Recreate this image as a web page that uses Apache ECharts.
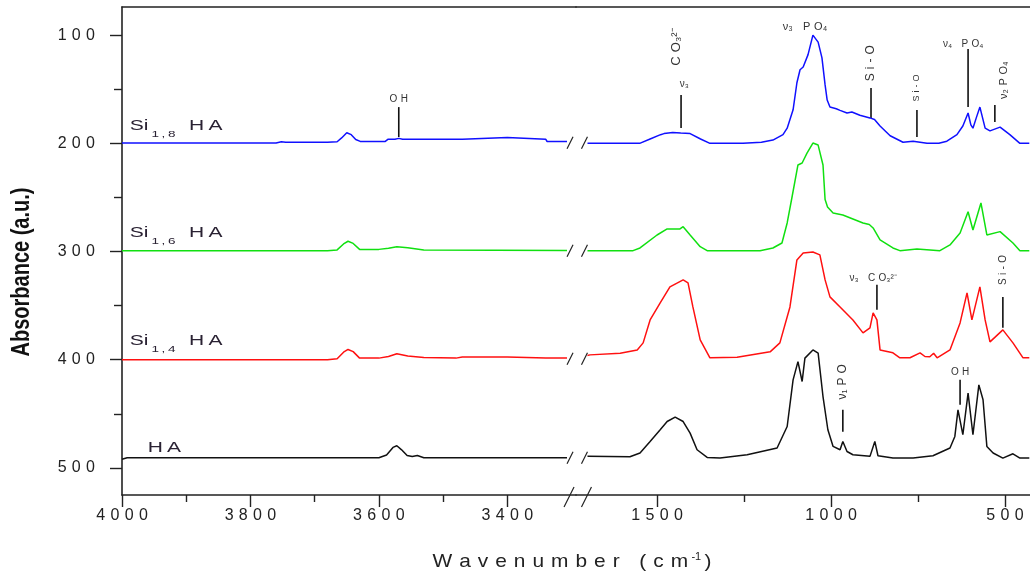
<!DOCTYPE html>
<html><head><meta charset="utf-8">
<script src="https://cdn.jsdelivr.net/npm/echarts@6/dist/echarts.min.js"></script>
<style>html,body{margin:0;padding:0;background:#fff}#c{width:1030px;height:577px}</style>
</head><body><div id="c"></div>
<script>
// ---------- data: [wavenumber (cm-1), absorbance (a.u., offset, axis inverted)] ----------
const si18Left = [[4000,199.6],[3760,199.6],[3752,198.6],[3745,199.1],[3680,199.1],[3665,198.5],[3658,195],[3650,190.2],[3643,192],[3636,196.5],[3629,198.2],[3590,198.2],[3586,196.3],[3575,196.3],[3569,195.4],[3563,196.3],[3470,196.3],[3468,194.5],[3400,194.5],[3398,196.3],[3340,196.3],[3338,198.3],[3307,198.3]];
const si18Right = [[1700,200],[1550,200],[1520,196],[1490,192],[1480,191],[1455,190],[1432,190.5],[1405,191],[1375,196],[1348,200],[1253,200],[1200,199],[1167,197],[1138,192],[1126,186],[1109,169],[1098,144],[1089,132],[1080,129.5],[1066,118],[1052,100],[1037,106.5],[1026,121],[1017,146],[1011,160],[1003,166.5],[985,168],[974,169.5],[954,172],[940,171],[917,174],[888,176.5],[875,178],[859,184],[830,193],[793,199],[764,198],[724,200],[690,200],[667,198],[638,192],[621,184],[606,172],[598,183],[592,186],[582,176],[572,166.5],[557,186],[543,188.5],[514,185],[486,192],[457,200],[430,200]];
const si16Left = [[4000,299.2],[3680,299.2],[3665,298.5],[3655,293],[3648,290.5],[3640,292.5],[3630,298],[3600,298],[3585,297],[3572,295.5],[3555,296.5],[3530,298.5],[3307,299]];
const si16Right = [[1700,299.2],[1569,299.2],[1549,296.7],[1500,284.7],[1471,279.1],[1434,279.1],[1425,277],[1405,284.7],[1376,295.5],[1356,299.2],[1204,299.2],[1167,296.7],[1141,292.1],[1126,273.6],[1112,249.6],[1095,220],[1083,218.2],[1069,209],[1052,199.7],[1037,201.6],[1023,220],[1017,252],[1010,258.8],[994,264.4],[966,266.2],[937,269.9],[908,273.6],[890,275],[879,278.2],[859,289.3],[822,296.7],[802,299.2],[753,297.6],[687,299.2],[658,293.9],[629,282.8],[606,263.2],[592,280.1],[569,255.1],[552,284.7],[514,281.6],[477,292.1],[457,299.2],[430,299.2]];
const si14Left = [[4000,400],[3680,400],[3665,399],[3655,393],[3648,390.5],[3640,392.5],[3630,398.5],[3600,398.5],[3585,397],[3572,394.5],[3555,396.5],[3530,398],[3480,398.5],[3470,397.5],[3400,397.5],[3340,398.5],[3307,398.5]];
const si14Right = [[1700,396],[1693,395.5],[1606,393.9],[1557,390.9],[1540,384.4],[1520,363.2],[1491,347.5],[1463,332.7],[1425,326.2],[1411,329],[1397,351.2],[1376,381.6],[1348,398.2],[1270,397.8],[1175,392.7],[1147,384.4],[1118,351.2],[1098,307.8],[1080,301.3],[1052,300.4],[1032,303.1],[1017,326.2],[1003,341.9],[974,351.2],[937,363.2],[908,375.2],[888,370.5],[879,356.7],[868,363.2],[859,390.9],[822,393.6],[802,398.2],[773,398.2],[744,393.6],[730,397],[716,397.3],[705,394],[695,398.2],[658,390.9],[629,366],[609,338.2],[595,363.2],[572,332.7],[557,363.2],[543,383.5],[506,372.4],[477,384.4],[448,398.2],[430,398.2]];
const haLeft = [[4000,492],[3992,490.6],[3910,490.6],[3907,491.6],[3904,490.6],[3860,490.6],[3857,491.6],[3854,490.6],[3600,490.6],[3588,488],[3578,481],[3572,479.5],[3565,483],[3556,488.5],[3548,489.5],[3540,488.5],[3530,490.6],[3307,490.6]];
const haRight = [[1700,489.3],[1578,489.7],[1549,486.2],[1520,475.5],[1491,464.7],[1471,457.1],[1448,453],[1425,457.1],[1405,467.8],[1385,483.2],[1356,490.3],[1319,490.9],[1241,487.8],[1155,481.6],[1126,461.7],[1109,418.6],[1095,401.7],[1083,420.1],[1075,398.5],[1052,390.9],[1037,393.9],[1023,434],[1009,464.7],[994,480.1],[974,483.2],[966,475.5],[954,484.8],[937,487.8],[888,489.3],[874,475.5],[865,488.7],[822,490.9],[764,490.9],[707,488.7],[658,481.6],[644,470.9],[635,446.3],[621,469.3],[606,430.8],[592,469.3],[575,423.2],[563,437],[552,480.1],[534,486.2],[506,490.9],[477,486.9],[457,490.9],[430,490.9]];

const xTicksLeft = [4000, 3800, 3600, 3400];
const xMinorLeft = [3900, 3700, 3500];
const xTicksRight = [1500, 1000, 500];
const xMinorRight = [1250, 750];
const yTicks = [100, 200, 300, 400, 500];
const yMinor = [150, 250, 350, 450];

// series labels: [main, subscript, suffix, wavenumber, absorbance]
const seriesLabels = [['Si','1,8','HA',3988,183.1],['Si','1,6','HA',3988,281.9],['Si','1,4','HA',3988,381.6],['','','HA',3960,480.4]];
// annotation lines: [segment(0 left / 1 right), wavenumber, top, bottom]
const annoLines = [[0,3569,166.5,194.2],[1,1431,155.4,185.9],[1,885,148.9,176.6],[1,753,169.3,194.2],[1,606,112.9,166.5],[1,529,164.6,180.3],[1,868,330.8,353.9],[1,506,341.9,370.5],[1,966,446.3,466.6],[1,629,418.6,441.6]];
// annotation texts: [segment, text, wavenumber, absorbance, rotated, fontSize]
const annoTexts = [[0,'OH',3569,159.1,false,10],[1,'ν₃',1422,145.2,false,10],[1,'CO₃²⁻',1443,111.1,true,13],[1,'ν₃ PO₄',1075,92.6,false,11],[1,'Si-O',885,125.9,true,12],[1,'Si-O',753,148.9,true,9],[1,'ν₄ PO₄',620,108.3,false,10],[1,'ν₂PO₄',502,141.6,true,11],[1,'ν₃ CO₃²⁻',879,324.4,false,10],[1,'Si-O',506,317,true,10],[1,'ν₁PO',966,420.4,true,12],[1,'OH',629,411.2,false,10]];
const breakBaselines = [199.5, 299.2, 399, 490.5];

const SP = '\u2004';
const spaced = s => String(s).split('').join(SP);
const FONT = 'Liberation Sans, Arial, sans-serif';
const INK = '#222';

const chart = echarts.init(document.getElementById('c'), null, {renderer: 'canvas'});

function xAxisDef(grid, min, max, ticks, minor, kind) {
  const base = {gridIndex: grid, type: 'value', inverse: true, min: min, max: max, splitLine: {show: false}};
  if (kind === 'main') return Object.assign(base, {
    position: 'bottom',
    axisLine: {show: true, onZero: false, lineStyle: {color: INK, width: 1.6}},
    axisTick: {show: true, customValues: ticks, length: 12, lineStyle: {color: INK, width: 1.4}},
    axisLabel: {show: true, customValues: ticks, formatter: v => spaced(v), margin: 13, color: INK, fontSize: 16, fontFamily: FONT}
  });
  if (kind === 'minor') return Object.assign(base, {
    position: 'bottom',
    axisLine: {show: false, onZero: false},
    axisTick: {show: true, customValues: minor, length: 7, lineStyle: {color: INK, width: 1.4}},
    axisLabel: {show: false}
  });
  return Object.assign(base, {
    position: 'top',
    axisLine: {show: true, onZero: false, lineStyle: {color: INK, width: 1.6}},
    axisTick: {show: false}, axisLabel: {show: false}
  });
}

const Ymin = 74, Ymax = 525;
const option = {
  animation: false,
  backgroundColor: '#fff',
  grid: [
    {left: 122, top: 7, width: 454, height: 488},
    {left: 576, top: 7, width: 454, height: 488}
  ],
  xAxis: [
    xAxisDef(0, 3293, 4000, xTicksLeft, null, 'main'),
    xAxisDef(1, 428, 1733, xTicksRight, null, 'main'),
    xAxisDef(0, 3293, 4000, null, xMinorLeft, 'minor'),
    xAxisDef(1, 428, 1733, null, xMinorRight, 'minor'),
    xAxisDef(0, 3293, 4000, null, null, 'top'),
    xAxisDef(1, 428, 1733, null, null, 'top')
  ],
  yAxis: [
    {gridIndex: 0, type: 'value', inverse: true, min: Ymin, max: Ymax, position: 'left', splitLine: {show: false},
     axisLine: {show: true, onZero: false, lineStyle: {color: INK, width: 1.6}},
     axisTick: {show: true, customValues: yTicks, length: 12, lineStyle: {color: INK, width: 1.4}},
     axisLabel: {show: true, customValues: yTicks, formatter: v => spaced(v), margin: 27, color: INK, fontSize: 16, fontFamily: FONT}},
    {gridIndex: 1, type: 'value', inverse: true, min: Ymin, max: Ymax, show: false},
    {gridIndex: 0, type: 'value', inverse: true, min: Ymin, max: Ymax, position: 'left', splitLine: {show: false},
     axisLine: {show: false, onZero: false},
     axisTick: {show: true, customValues: yMinor, length: 8, lineStyle: {color: INK, width: 1.4}},
     axisLabel: {show: false}}
  ],
  series: []
};

const specs = [
  [si18Left, si18Right, '#1010ff'],
  [si16Left, si16Right, '#10e010'],
  [si14Left, si14Right, '#ff1010'],
  [haLeft, haRight, '#111111']
];
specs.forEach(([l, r, col]) => {
  [[l, 0], [r, 1]].forEach(([d, gi]) => {
    option.series.push({type: 'line', xAxisIndex: gi, yAxisIndex: gi, data: d, showSymbol: false, silent: true,
      lineStyle: {color: col, width: 1.5}, itemStyle: {color: col}, clip: true});
  });
});

chart.setOption(option);

const px = (seg, x, y) => chart.convertToPixel({xAxisIndex: seg, yAxisIndex: seg}, [x, y]);
const g = [];
// series names (horizontally stretched like the reference)
seriesLabels.forEach(([m, sub, suf, wn, v]) => {
  const p = px(0, wn, v);
  let t = '';
  if (m) t += '{m|' + m + '}{s|' + sub.split('').join('\u2009') + '}{m|\u2002' + 'H\u2009A' + '}';
  else t += '{m|H\u2009A}';
  g.push({type: 'text', x: p[0], y: p[1], scaleX: 1.5, silent: true, style: {text: t, align: 'left', verticalAlign: 'middle',
    rich: {m: {fontSize: 14, fontFamily: FONT, fill: '#2a2233', verticalAlign: 'bottom', lineHeight: 16},
           s: {fontSize: 9, fontFamily: FONT, fill: '#2a2233', verticalAlign: 'bottom', lineHeight: 9, padding: [0, 2, -6, 2]}}}});
});
// annotation lines
annoLines.forEach(([seg, wn, a, b]) => {
  const p1 = px(seg, wn, a), p2 = px(seg, wn, b);
  g.push({type: 'line', silent: true, shape: {x1: p1[0], y1: p1[1], x2: p2[0], y2: p2[1]}, style: {stroke: '#111', lineWidth: 1.6}});
});
// annotation texts
annoTexts.forEach(([seg, txt, wn, v, rot, fs]) => {
  const p = px(seg, wn, v);
  g.push({type: 'text', x: p[0], y: p[1], rotation: rot ? Math.PI / 2 : 0, silent: true,
    style: {text: spaced(txt).replace(/\u2004([₀-₉²³⁻])/g, '$1'), align: 'center', verticalAlign: 'middle', fontSize: fs, fontFamily: FONT, fill: '#333'}});
});
// break marks on curves
breakBaselines.forEach(v => {
  const a = px(0, 3307, v), b = px(1, 1700, v);
  [[a[0] + 3, a[1]], [b[0] - 3, b[1]]].forEach(([x, y]) => {
    g.push({type: 'line', silent: true, shape: {x1: x - 3, y1: y + 6, x2: x + 3, y2: y - 6}, style: {stroke: '#222', lineWidth: 1.2}});
  });
});
// break marks on x axis
const ax = px(0, 3307, Ymax), bx = px(1, 1700, Ymax);
[[ax[0] + 2, ax[1]], [bx[0] - 1, bx[1]]].forEach(([x, y]) => {
  g.push({type: 'line', silent: true, shape: {x1: x - 5, y1: y + 12, x2: x + 5, y2: y - 8}, style: {stroke: '#222', lineWidth: 1.2}});
});
// axis titles
g.push({type: 'text', x: 572, y: 562, scaleX: 1.1, silent: true, style: {
  text: '{a|' + spaced('Wavenumber (cm') + '}{s|-1}{a|)}', align: 'center', verticalAlign: 'middle',
  rich: {a: {fontSize: 19, fontFamily: FONT, fill: '#222', verticalAlign: 'bottom'}, s: {fontSize: 10, fontFamily: FONT, fill: '#222', verticalAlign: 'top', padding: [0, 3, 8, 3]}}}});
g.push({type: 'text', x: 22, y: 272, rotation: Math.PI / 2, scaleY: 1.25, silent: true, style: {
  text: 'Absorbance (a.u.)', align: 'center', verticalAlign: 'middle', fontSize: 20, fontWeight: 'bold', fontFamily: FONT, fill: '#111'}});

chart.setOption({graphic: g});
</script>
</body></html>
